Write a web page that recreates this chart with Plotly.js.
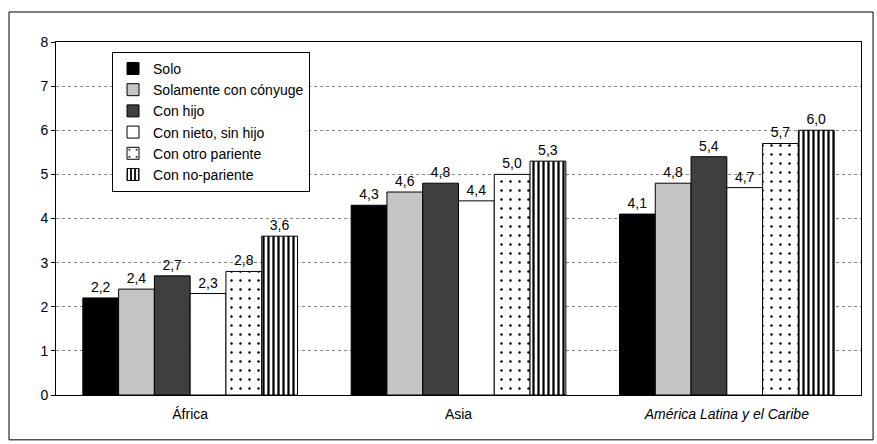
<!DOCTYPE html>
<html>
<head>
<meta charset="utf-8">
<script src="https://cdn.plot.ly/plotly-3.0.1.min.js"></script>
<style>html,body{margin:0;padding:0;background:#fff;}#chart{width:877px;height:444px;}</style>
</head>
<body>
<div id="chart"></div>
<script>
const categories = ["África", "Asia", "<i>América Latina y el Caribe</i>"];
const seriesNames = ["Solo", "Solamente con cónyuge", "Con hijo", "Con nieto, sin hijo", "Con otro pariente", "Con no-pariente"];
const solo = [2.2, 4.3, 4.1];
const soloConyuge = [2.4, 4.6, 4.8];
const conHijo = [2.7, 4.8, 5.4];
const conNieto = [2.3, 4.4, 4.7];
const otroPariente = [2.8, 5.0, 5.7];
const noPariente = [3.6, 5.3, 6.0];
const yTicks = [0, 1, 2, 3, 4, 5, 6, 7, 8];

const allValues = [solo, soloConyuge, conHijo, conNieto, otroPariente, noPariente];
const styles = [
  {color: "#000000", pattern: {shape: ""}},
  {color: "#c2c2c2", pattern: {shape: ".", fgcolor: "#9a9a9a", bgcolor: "#d2d2d2", size: 2, solidity: 0.3}},
  {color: "#3a3a3a", pattern: {shape: ".", fgcolor: "#1a1a1a", bgcolor: "#4a4a4a", size: 2, solidity: 0.3}},
  {color: "#ffffff", pattern: {shape: ""}},
  {color: "#ffffff", pattern: {shape: ".", fgcolor: "#000", bgcolor: "#fff", size: 9, solidity: 0.06}},
  {color: "#ffffff", pattern: {shape: "|", fgcolor: "#000", bgcolor: "#fff", size: 5, solidity: 0.45}}
];
const fmt = v => v.toFixed(1).replace(".", ",");

const traces = allValues.map((vals, i) => ({
  type: "bar",
  name: seriesNames[i],
  x: categories,
  y: vals,
  text: vals.map(fmt),
  textposition: "outside",
  cliponaxis: false,
  textfont: {family: "Liberation Sans, Arial, sans-serif", size: 14, color: "#000"},
  marker: {color: styles[i].color, pattern: styles[i].pattern, line: {color: "#000", width: 1}}
}));

const layout = {
  width: 877, height: 444,
  margin: {l: 56, r: 16, t: 42, b: 49},
  paper_bgcolor: "#fff", plot_bgcolor: "#fff",
  font: {family: "Liberation Sans, Arial, sans-serif", size: 14, color: "#000"},
  barmode: "group",
  bargap: 0.2, bargroupgap: 0,
  showlegend: true,
  legend: {
    x: 0.0696, y: 0.972, xanchor: "left", yanchor: "top",
    bgcolor: "#fff", bordercolor: "#000", borderwidth: 1,
    font: {size: 14}, traceorder: "normal", tracegroupgap: 0
  },
  xaxis: {
    showline: true, linecolor: "#000", linewidth: 1, mirror: true,
    ticks: "outside", ticklen: 6, tickcolor: "rgba(0,0,0,0)",
    tickfont: {size: 14}, showgrid: false
  },
  yaxis: {
    range: [0, 8], tickvals: yTicks, ticktext: yTicks.map(String),
    showline: true, linecolor: "#000", linewidth: 1, mirror: true,
    ticks: "outside", ticklen: 4, tickcolor: "#000",
    showgrid: true, gridcolor: "#888", griddash: "dot", gridwidth: 1,
    zeroline: false, tickfont: {size: 14}
  },
  shapes: [{
    type: "rect", xref: "paper", yref: "paper",
    x0: -0.0584, x1: 1.015, y0: -0.127, y1: 1.085,
    line: {color: "#000", width: 1}, fillcolor: "rgba(0,0,0,0)", layer: "below"
  }]
};

Plotly.newPlot("chart", traces, layout, {displayModeBar: false, staticPlot: true});
</script>
</body>
</html>
